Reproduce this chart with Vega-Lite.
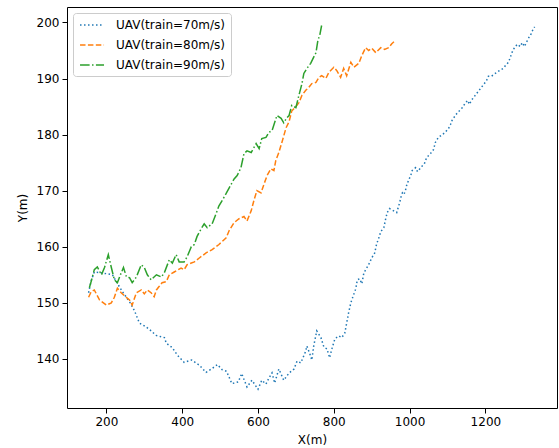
{
  "$schema": "https://vega.github.io/schema/vega-lite/v6.json",
  "width": 490,
  "height": 401,
  "autosize": {"type": "none"},
  "padding": {"left": 67, "top": 7, "right": 2, "bottom": 40},
  "config": {
    "font": "DejaVu Sans",
    "view": {"stroke": "black", "strokeWidth": 1},
    "axis": {
      "domain": false, "grid": false, "ticks": true, "tickColor": "black", "tickSize": 5, "tickWidth": 1,
      "labelColor": "black", "labelFontSize": 12, "labelPadding": 3, "labelFont": "DejaVu Sans",
      "titleColor": "black", "titleFontSize": 12, "titleFontWeight": "normal", "titleFont": "DejaVu Sans"
    },
    "legend": {
      "labelFont": "DejaVu Sans", "labelFontSize": 12, "labelColor": "black"
    }
  },
  "encoding": {
    "x": {"field": "x", "type": "quantitative", "title": "X(m)",
      "scale": {"domain": [96, 1389], "nice": false, "zero": false},
      "axis": {"values": [200, 400, 600, 800, 1000, 1200], "format": "d", "titlePadding": 7}},
    "y": {"field": "y", "type": "quantitative", "title": "Y(m)",
      "scale": {"domain": [131.25, 202.75], "nice": false, "zero": false},
      "axis": {"values": [140, 150, 160, 170, 180, 190, 200], "titlePadding": 7}},
    "color": {"datum": "UAV(train=70m/s)", "type": "nominal",
      "scale": {"domain": ["UAV(train=70m/s)", "UAV(train=80m/s)", "UAV(train=90m/s)"], "range": ["#1f77b4", "#ff7f0e", "#2ca02c"]},
      "legend": {"title": null, "orient": "top-left", "offset": 6, "padding": 5, "symbolType": "M-0.83,0H3.17", "symbolSize": 144, "symbolStrokeWidth": 1.5,
        "labelOffset": 24, "rowPadding": 7, "strokeColor": "#cccccc", "fillColor": "rgba(255,255,255,0.8)", "cornerRadius": 3}},
    "strokeDash": {"datum": "UAV(train=70m/s)", "type": "nominal",
      "scale": {"domain": ["UAV(train=70m/s)", "UAV(train=80m/s)", "UAV(train=90m/s)"], "range": [[1.5, 2.5], [5.5, 2.4], [9.6, 2.4, 1.5, 2.4]]},
      "legend": {"title": null, "orient": "top-left", "offset": 6, "padding": 5, "symbolType": "M-0.83,0H3.17", "symbolSize": 144, "symbolStrokeWidth": 1.5,
        "labelOffset": 24, "rowPadding": 7, "strokeColor": "#cccccc", "fillColor": "rgba(255,255,255,0.8)", "cornerRadius": 3}}
  },
  "layer": [
    {
      "data": {"values": [
        {"x":153,"y":151.8},{"x":160,"y":154},{"x":168,"y":155.5},{"x":182,"y":155.4},{"x":200,"y":155.2},{"x":216,"y":155},{"x":226,"y":153.8},{"x":242,"y":152},{"x":261,"y":150.2},{"x":274,"y":148.6},{"x":287,"y":146.4},{"x":300,"y":145.9},{"x":313,"y":145.3},{"x":331,"y":144.2},{"x":353,"y":143.8},{"x":358,"y":142.8},{"x":374,"y":142},{"x":387,"y":140.7},{"x":405,"y":139.4},{"x":425,"y":139.8},{"x":445,"y":138.9},{"x":463,"y":137.6},{"x":479,"y":138.3},{"x":493,"y":139},{"x":505,"y":138.1},{"x":517,"y":137.8},{"x":531,"y":135.6},{"x":548,"y":135.9},{"x":557,"y":137.4},{"x":565,"y":136},{"x":571,"y":135},{"x":584,"y":136.2},{"x":600,"y":134.6},{"x":610,"y":136.2},{"x":621,"y":135.5},{"x":629,"y":136.6},{"x":637,"y":137.5},{"x":644,"y":135.7},{"x":655,"y":138.2},{"x":668,"y":136.2},{"x":682,"y":137.5},{"x":695,"y":138.2},{"x":703,"y":139.6},{"x":713,"y":139.3},{"x":726,"y":141.4},{"x":729,"y":142.3},{"x":739,"y":140.5},{"x":742,"y":139.8},{"x":747,"y":142.3},{"x":755,"y":145},{"x":766,"y":143.8},{"x":774,"y":142.1},{"x":782,"y":141.8},{"x":789,"y":140.2},{"x":795,"y":141.8},{"x":803,"y":143.6},{"x":813,"y":144.1},{"x":821,"y":143.8},{"x":829,"y":144.6},{"x":834,"y":146.4},{"x":839,"y":148.2},{"x":845,"y":150},{"x":850,"y":151},{"x":858,"y":152.5},{"x":862,"y":154.1},{"x":868,"y":154.3},{"x":874,"y":153.4},{"x":879,"y":155.2},{"x":884,"y":155.9},{"x":892,"y":156.8},{"x":900,"y":158},{"x":908,"y":158.9},{"x":913,"y":160.5},{"x":918,"y":161.4},{"x":924,"y":162.7},{"x":932,"y":163.4},{"x":937,"y":165},{"x":941,"y":166.1},{"x":947,"y":166.8},{"x":958,"y":166.4},{"x":966,"y":166.1},{"x":970,"y":167},{"x":974,"y":167.9},{"x":977,"y":168.8},{"x":981,"y":169.6},{"x":985,"y":169.3},{"x":989,"y":170},{"x":992,"y":170.9},{"x":997,"y":171.8},{"x":1003,"y":172.7},{"x":1007,"y":173.6},{"x":1016,"y":174.1},{"x":1021,"y":173.4},{"x":1032,"y":174.3},{"x":1039,"y":174.8},{"x":1045,"y":175.9},{"x":1055,"y":176.6},{"x":1063,"y":177.3},{"x":1068,"y":178.6},{"x":1076,"y":179.5},{"x":1087,"y":180},{"x":1095,"y":180.5},{"x":1103,"y":181.1},{"x":1108,"y":181.8},{"x":1113,"y":182.7},{"x":1121,"y":183.4},{"x":1126,"y":183.9},{"x":1137,"y":184.6},{"x":1145,"y":185.4},{"x":1153,"y":186.1},{"x":1158,"y":185.4},{"x":1163,"y":186.1},{"x":1171,"y":186.8},{"x":1179,"y":187.5},{"x":1187,"y":188.2},{"x":1195,"y":188.9},{"x":1203,"y":189.6},{"x":1208,"y":190.4},{"x":1216,"y":190.4},{"x":1226,"y":190.9},{"x":1237,"y":191.4},{"x":1242,"y":191.6},{"x":1247,"y":191.8},{"x":1253,"y":192.3},{"x":1261,"y":192.9},{"x":1266,"y":193.8},{"x":1270,"y":194.6},{"x":1276,"y":195.4},{"x":1284,"y":196.1},{"x":1292,"y":195.7},{"x":1297,"y":196.4},{"x":1303,"y":195.7},{"x":1308,"y":196.4},{"x":1313,"y":197.1},{"x":1321,"y":198},{"x":1326,"y":198.8},{"x":1330,"y":199.2}
      ]},
      "mark": {"type": "line", "strokeWidth": 1.5},
      "encoding": {
        "color": {"datum": "UAV(train=70m/s)", "type": "nominal"},
        "strokeDash": {"datum": "UAV(train=70m/s)", "type": "nominal"}
      }
    },
    {
      "data": {"values": [
        {"x":153,"y":151},{"x":160,"y":152},{"x":168,"y":152.3},{"x":182,"y":150.5},{"x":200,"y":149.6},{"x":213,"y":150},{"x":221,"y":151},{"x":229,"y":152.6},{"x":239,"y":151.8},{"x":250,"y":151.1},{"x":261,"y":150.5},{"x":268,"y":149.6},{"x":279,"y":151.8},{"x":292,"y":152.3},{"x":300,"y":151.6},{"x":308,"y":152.3},{"x":318,"y":151.8},{"x":326,"y":151.1},{"x":332,"y":152.3},{"x":339,"y":152.9},{"x":347,"y":153.6},{"x":358,"y":153.8},{"x":366,"y":155},{"x":379,"y":155.5},{"x":397,"y":156.2},{"x":405,"y":155.9},{"x":413,"y":156.8},{"x":432,"y":157.3},{"x":445,"y":158},{"x":463,"y":158.9},{"x":479,"y":159.5},{"x":497,"y":160.4},{"x":516,"y":161.6},{"x":524,"y":162.9},{"x":537,"y":164.3},{"x":550,"y":165},{"x":563,"y":165.4},{"x":571,"y":164.6},{"x":582,"y":166.4},{"x":589,"y":168.2},{"x":597,"y":170},{"x":608,"y":169.6},{"x":616,"y":171.2},{"x":624,"y":172.7},{"x":634,"y":173.9},{"x":642,"y":173.6},{"x":647,"y":175.4},{"x":655,"y":176.8},{"x":663,"y":178.6},{"x":674,"y":181.2},{"x":682,"y":182.3},{"x":689,"y":184.2},{"x":700,"y":185},{"x":708,"y":185.7},{"x":716,"y":187},{"x":726,"y":187.9},{"x":734,"y":188.4},{"x":742,"y":189.1},{"x":753,"y":189.3},{"x":761,"y":190.2},{"x":768,"y":190.5},{"x":779,"y":190},{"x":787,"y":191.1},{"x":800,"y":192},{"x":808,"y":191.4},{"x":818,"y":190.2},{"x":826,"y":191.8},{"x":834,"y":190.5},{"x":845,"y":192.9},{"x":853,"y":192},{"x":866,"y":192.7},{"x":874,"y":194.1},{"x":884,"y":195.5},{"x":892,"y":195},{"x":900,"y":195.4},{"x":911,"y":194.6},{"x":924,"y":195.5},{"x":934,"y":195.2},{"x":945,"y":195.5},{"x":953,"y":196.2},{"x":963,"y":196.8}
      ]},
      "mark": {"type": "line", "strokeWidth": 1.5},
      "encoding": {
        "color": {"datum": "UAV(train=80m/s)", "type": "nominal"},
        "strokeDash": {"datum": "UAV(train=80m/s)", "type": "nominal"}
      }
    },
    {
      "data": {"values": [
        {"x":155,"y":152.7},{"x":161,"y":154.1},{"x":168,"y":155.9},{"x":176,"y":156.4},{"x":187,"y":155},{"x":195,"y":156.3},{"x":205,"y":158.6},{"x":213,"y":156.3},{"x":221,"y":154.1},{"x":229,"y":153.6},{"x":237,"y":155},{"x":245,"y":156.3},{"x":253,"y":154.6},{"x":261,"y":154.5},{"x":268,"y":153.6},{"x":279,"y":154.6},{"x":292,"y":156.8},{"x":300,"y":156.3},{"x":308,"y":155},{"x":318,"y":154.1},{"x":332,"y":155},{"x":345,"y":154.6},{"x":353,"y":155.4},{"x":366,"y":157.7},{"x":374,"y":157.1},{"x":384,"y":158.6},{"x":392,"y":157.3},{"x":405,"y":157.3},{"x":413,"y":158.2},{"x":424,"y":160},{"x":432,"y":160.4},{"x":439,"y":161.8},{"x":450,"y":163.2},{"x":458,"y":164.1},{"x":466,"y":163.4},{"x":479,"y":164.1},{"x":490,"y":166},{"x":497,"y":167.3},{"x":505,"y":168.2},{"x":516,"y":169.5},{"x":524,"y":170.5},{"x":537,"y":172.1},{"x":545,"y":172.7},{"x":555,"y":174.1},{"x":563,"y":176.6},{"x":571,"y":177.1},{"x":582,"y":176.8},{"x":595,"y":178.4},{"x":603,"y":177.5},{"x":610,"y":179.3},{"x":621,"y":179.5},{"x":629,"y":180.4},{"x":637,"y":180.7},{"x":650,"y":183.4},{"x":661,"y":182.9},{"x":668,"y":182.1},{"x":676,"y":183},{"x":682,"y":183.4},{"x":689,"y":185.2},{"x":700,"y":184.8},{"x":708,"y":187},{"x":716,"y":189.1},{"x":721,"y":190.9},{"x":729,"y":191.8},{"x":739,"y":192.7},{"x":747,"y":193.8},{"x":753,"y":194.6},{"x":758,"y":196.8},{"x":763,"y":197.7},{"x":768,"y":199.5}
      ]},
      "mark": {"type": "line", "strokeWidth": 1.5},
      "encoding": {
        "color": {"datum": "UAV(train=90m/s)", "type": "nominal"},
        "strokeDash": {"datum": "UAV(train=90m/s)", "type": "nominal"}
      }
    }
  ]
}
